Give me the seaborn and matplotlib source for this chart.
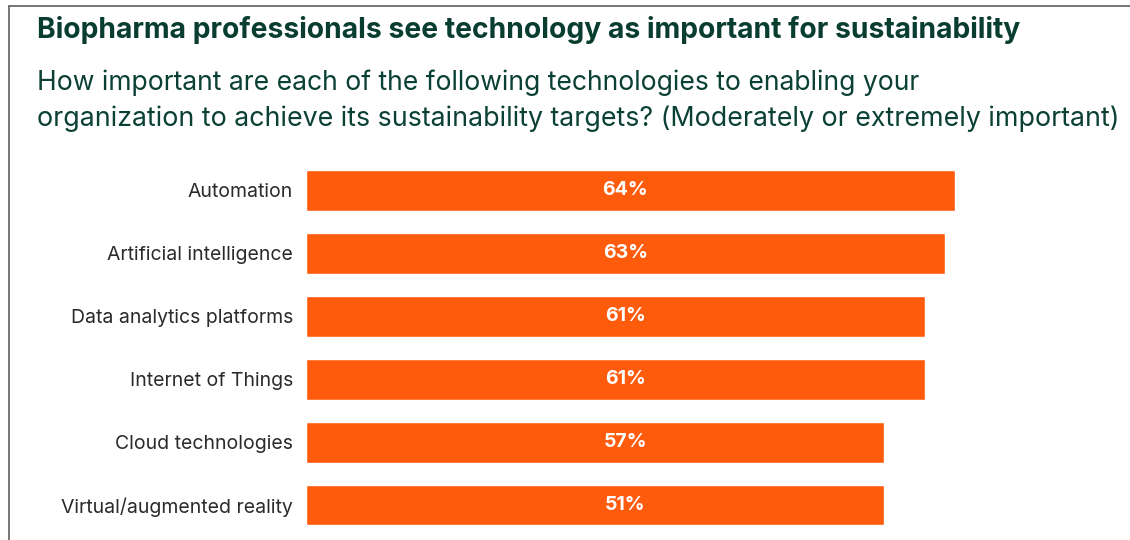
import matplotlib
matplotlib.use("Agg")
import matplotlib.pyplot as plt
import seaborn as sns
import pandas as pd
from matplotlib.lines import Line2D

categories = ["Automation", "Artificial intelligence", "Data analytics platforms",
              "Internet of Things", "Cloud technologies", "Virtual/augmented reality"]
# bar lengths as drawn in the picture (the last bar is drawn as long as the 57% bar)
bar_lengths = [64, 63, 61, 61, 57, 57]
value_labels = ["64%", "63%", "61%", "61%", "57%", "51%"]

title = "Biopharma professionals see technology as important for sustainability"
subtitle_lines = ["How important are each of the following technologies to enabling your",
                  "organization to achieve its sustainability targets? (Moderately or extremely important)"]

sns.set_theme(style="white")
plt.rcParams['font.family'] = ['Inter', 'DejaVu Sans']

W, H = 1130, 540
fig = plt.figure(figsize=(W / 100, H / 100), dpi=100)
fig.patch.set_facecolor("white")

ax_left, ax_right = 306, 1130
ax_top, ax_bottom = 159, 536.5
ax = fig.add_axes([ax_left / W, 1 - ax_bottom / H, (ax_right - ax_left) / W, (ax_bottom - ax_top) / H])

df = pd.DataFrame({"cat": categories, "val": bar_lengths})
sns.barplot(data=df, y="cat", x="val", orient="h", color="#FF5B0C", saturation=1,
            width=0.65, ax=ax, order=categories)

px_per_unit = 10.14
ax.set_xlim(0, (ax_right - ax_left) / px_per_unit)
ax.set_ylim(len(categories) - 0.5, -0.5)

for i, lab in enumerate(value_labels):
    ax.text(31.5, i, lab, ha="center", va="center", color="white",
            fontsize=14, fontweight="bold")

ax.set_xlabel("")
ax.set_ylabel("")
ax.set_xticks([])
ax.tick_params(axis="y", length=0, pad=9.4, labelsize=14, labelcolor="#2a2a2a")
for s in ax.spines.values():
    s.set_visible(False)
ax.set_facecolor("none")

renderer = fig.canvas.get_renderer()


def fit_text(x, y, s, target_w, size, **kw):
    t = fig.text(x / W, 1 - y / H, s, ha="left", va="baseline", fontsize=size, **kw)
    w = t.get_window_extent(renderer).width
    t.set_fontsize(size * target_w / w)
    return t


fit_text(37, 38, title, 986, 20, fontweight="bold", color="#083D30")
fit_text(37, 90, subtitle_lines[0], 881, 19, color="#0B4034")
fit_text(37, 126, subtitle_lines[1], 1078, 19, color="#0B4034")

# frame lines
fig.add_artist(Line2D([9 / W, 1], [1 - 6 / H, 1 - 6 / H], color="#6a6a6a", lw=1.3,
                      transform=fig.transFigure))
fig.add_artist(Line2D([9 / W, 9 / W], [1 - 6 / H, 0], color="#6a6a6a", lw=1.3,
                      transform=fig.transFigure))

fig.savefig("out.png", dpi=100)
